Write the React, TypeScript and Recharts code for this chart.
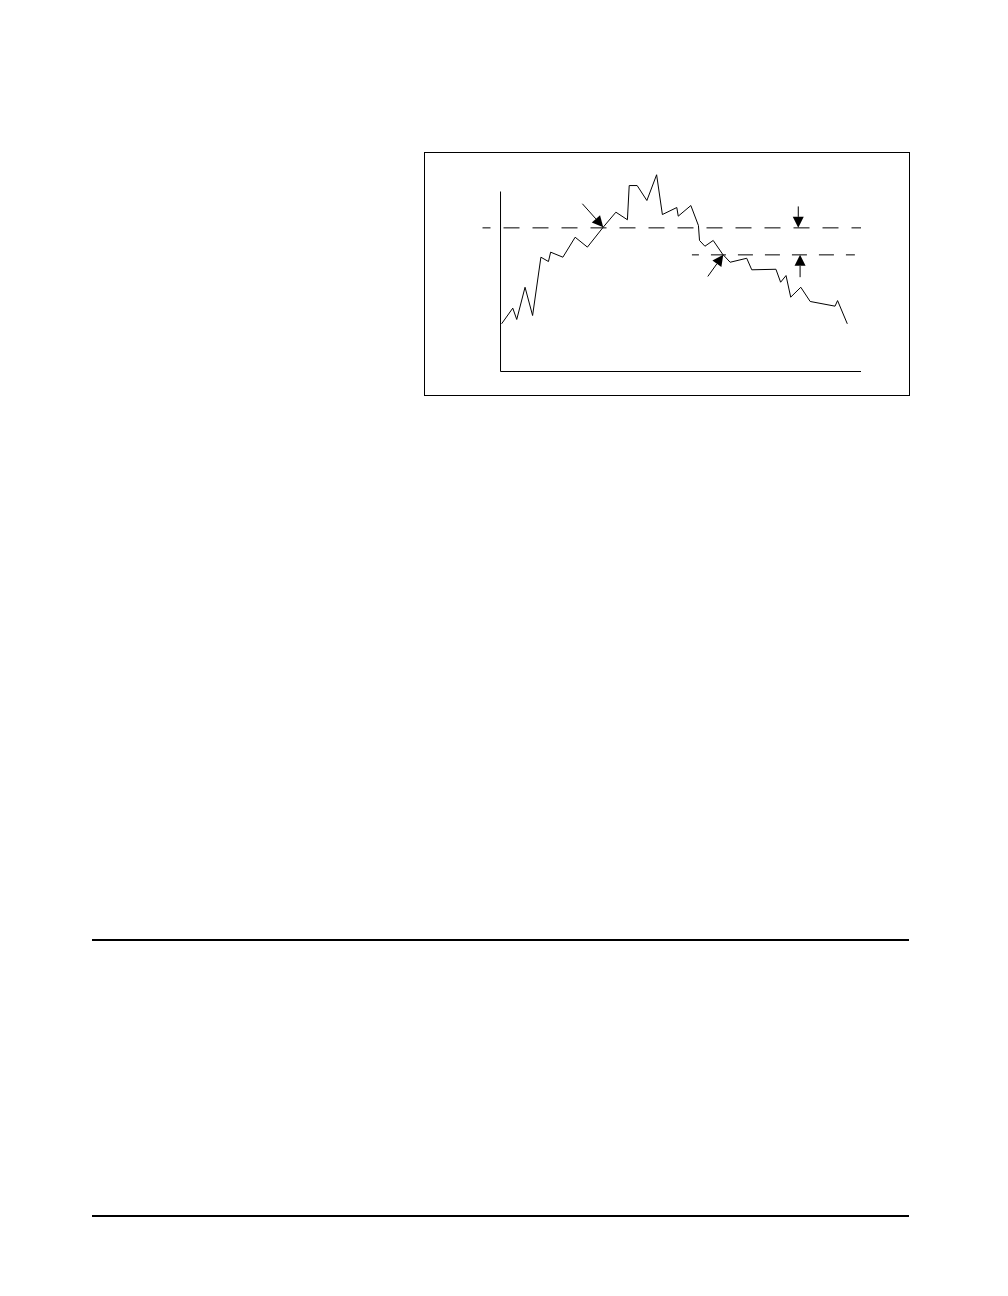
import React from 'react'
import { LineChart, Line, XAxis, YAxis, ReferenceLine } from 'recharts'

// signal trace (x: arbitrary time units, y: arbitrary level units)
const timeSteps = [
  0.3, 3.4, 4.5, 6.8, 8.9, 11.2, 13.3, 13.9, 17.3, 20.7, 24.1, 28.5, 32.0, 35.2, 35.7,
  37.9, 40.6, 43.3, 44.9, 48.9, 49.3, 52.8, 54.9, 55.2, 56.7, 59.0, 61.6, 63.7, 68.3,
  69.7, 76.4, 77.7, 79.2, 80.5, 83.3, 85.9, 92.8, 93.5, 96.2,
]
const levels = [
  26.5, 35.2, 28.9, 46.8, 31.1, 63.5, 61.1, 66.3, 63.5, 74.6, 69.1, 80.2, 88.5, 84.3, 103.3,
  103.3, 95.0, 109.3, 87.2, 91.1, 86.3, 92.2, 81.1, 72.8, 69.6, 72.8, 65.2, 60.7, 62.9,
  56.5, 56.8, 49.6, 53.3, 41.3, 46.8, 38.9, 36.3, 39.4, 26.5,
]

// the two dashed thresholds
const upperLevel = 79.8
const lowerLevel = 64.8
const upperSpan = [-5, 100]
const lowerSpan = [53.1, 98.3]

// arrows: [fromT, fromV, toT, toV]
const arrows = [
  [22.7, 93.2, 28.5, 80.2],
  [57.5, 52.8, 61.8, 64.8],
  [82.6, 91.7, 82.6, 79.8],
  [83.1, 52.4, 83.1, 64.8],
]

const chartData = timeSteps.map((t, i) => ({ t, v: levels[i] }))

function ArrowShape(props: any) {
  const { x1, y1, x2, y2 } = props
  if (x1 == null || x2 == null) return null
  const dx = x2 - x1
  const dy = y2 - y1
  const len = Math.sqrt(dx * dx + dy * dy) || 1
  const ux = dx / len
  const uy = dy / len
  const headLen = 11
  const headHalf = 5.5
  const bx = x2 - ux * headLen
  const by = y2 - uy * headLen
  const pts = [
    `${x2},${y2}`,
    `${bx - uy * headHalf},${by + ux * headHalf}`,
    `${bx + uy * headHalf},${by - ux * headHalf}`,
  ].join(' ')
  return (
    <g>
      <line x1={x1} y1={y1} x2={bx} y2={by} stroke="#000" strokeWidth={1} />
      <polygon points={pts} fill="#000" stroke="none" />
    </g>
  )
}

export default function App() {
  return (
    <div style={{ position: 'absolute', left: 0, top: 0, width: 1008, height: 1296, background: '#fff' }}>
      <div
        style={{
          position: 'absolute',
          left: 424,
          top: 152,
          width: 486,
          height: 244,
          border: '1px solid #000',
          boxSizing: 'border-box',
        }}
      />
      <div style={{ position: 'absolute', left: 424, top: 152 }}>
        <LineChart
          width={486}
          height={244}
          data={chartData}
          margin={{ top: 17.9, right: 49, bottom: 24.5, left: 58.5 }}
        >
          <XAxis type="number" dataKey="t" domain={[-5, 100]} hide />
          <YAxis type="number" domain={[0, 112]} hide />
          {/* axes */}
          <ReferenceLine segment={[{ x: 0, y: 0 }, { x: 0, y: 100 }]} stroke="#000" strokeWidth={1} />
          <ReferenceLine segment={[{ x: 0, y: 0 }, { x: 100, y: 0 }]} stroke="#000" strokeWidth={1} />
          {/* thresholds */}
          <ReferenceLine
            segment={[{ x: upperSpan[0], y: upperLevel }, { x: upperSpan[1], y: upperLevel }]}
            stroke="#000"
            strokeWidth={1}
            strokeDasharray="16 13"
            strokeDashoffset={8}
          />
          <ReferenceLine
            segment={[{ x: lowerSpan[0], y: lowerLevel }, { x: lowerSpan[1], y: lowerLevel }]}
            stroke="#000"
            strokeWidth={1}
            strokeDasharray="15 12"
            strokeDashoffset={8}
          />
          <Line
            type="linear"
            dataKey="v"
            stroke="#000"
            strokeWidth={1}
            dot={false}
            activeDot={false}
            isAnimationActive={false}
          />
          {arrows.map((a, i) => (
            <ReferenceLine
              key={i}
              segment={[{ x: a[0], y: a[1] }, { x: a[2], y: a[3] }]}
              stroke="#000"
              shape={ArrowShape}
            />
          ))}
        </LineChart>
      </div>
      <div style={{ position: 'absolute', left: 92, top: 939, width: 817, height: 2, background: '#000' }} />
      <div style={{ position: 'absolute', left: 92, top: 1215, width: 817, height: 2, background: '#000' }} />
    </div>
  )
}
